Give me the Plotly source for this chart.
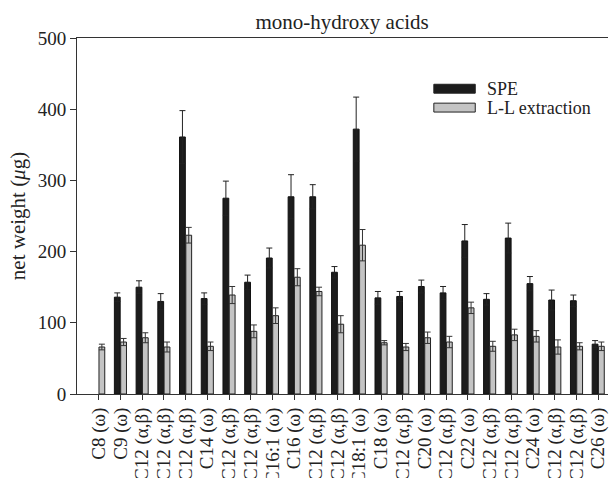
import plotly.graph_objects as go

categories = ["C8 (ω)", "C9 (ω)", "C12 (α,β)", "C12 (α,β)", "C12 (α,β)", "C14 (ω)",
              "C12 (α,β)", "C12 (α,β)", "C16:1 (ω)", "C16 (ω)", "C12 (α,β)", "C12 (α,β)",
              "C18:1 (ω)", "C18 (ω)", "C12 (α,β)", "C20 (ω)", "C12 (α,β)", "C22 (ω)",
              "C12 (α,β)", "C12 (α,β)", "C24 (ω)", "C12 (α,β)", "C12 (α,β)", "C26 (ω)"]
spe = [None, 136, 150, 130, 361, 134, 275, 157, 191, 277, 277, 171,
       372, 135, 137, 151, 142, 215, 133, 219, 155, 132, 131, 70]
spe_err = [None, 6, 9, 11, 37, 8, 24, 10, 14, 31, 17, 8,
           45, 9, 7, 9, 9, 23, 8, 21, 10, 14, 8, 5]
ll = [66, 73, 79, 66, 223, 67, 139, 88, 110, 164, 144, 98,
      209, 72, 66, 79, 73, 121, 67, 83, 81, 66, 67, 67]
ll_err = [4, 5, 7, 7, 11, 6, 12, 9, 11, 12, 6, 12,
          22, 3, 5, 8, 8, 8, 7, 8, 8, 10, 5, 6]
y_ticks = [0, 100, 200, 300, 400, 500]
series_names = ["SPE", "L-L extraction"]
series_fill = ["#1c1c1c", "#c4c4c4"]

x = list(range(len(categories)))
font_family = "Liberation Serif, Times New Roman, serif"
ink = "#222222"

fig = go.Figure()
fig.add_trace(go.Bar(
    x=x, y=spe, name=series_names[0], showlegend=False,
    marker=dict(color=series_fill[0], line=dict(color="#111111", width=1)),
    error_y=dict(type="data", array=spe_err, visible=True, color="#222222", thickness=1, width=3),
))
fig.add_trace(go.Bar(
    x=x, y=ll, name=series_names[1], showlegend=False,
    marker=dict(color=series_fill[1], line=dict(color="#222222", width=1)),
    error_y=dict(type="data", array=ll_err, visible=True, color="#333333", thickness=1, width=3),
))

# custom legend (wide swatches like the reference)
leg_rows = [(0.870, 0.845), (0.817, 0.792)]
for (y1, y0), name, fill in zip(leg_rows, series_names, series_fill):
    fig.add_shape(type="rect", xref="paper", yref="paper", x0=0.672, x1=0.750, y0=y0, y1=y1,
                  fillcolor=fill, line=dict(color="#222222", width=1))
    fig.add_annotation(xref="paper", yref="paper", x=0.768, y=(y0 + y1) / 2, text=name,
                       showarrow=False, xanchor="left", yanchor="middle",
                       font=dict(family=font_family, size=18, color=ink))

fig.update_layout(
    width=611, height=478,
    margin=dict(l=77, r=3, t=38, b=84),
    paper_bgcolor="white", plot_bgcolor="white",
    barmode="group", bargap=0.42, bargroupgap=0.08,
    font=dict(family=font_family, size=18, color=ink),
    title=dict(text="mono-hydroxy acids", x=0.56, xanchor="center", y=0.955, yanchor="middle",
               font=dict(family=font_family, size=21, color=ink)),
    showlegend=False,
)
fig.update_xaxes(
    range=[-1.0, 23.45], tickmode="array", tickvals=x, ticktext=categories,
    tickangle=-90, ticks="outside", ticklen=5, tickcolor="#333333",
    showline=True, linecolor="#333333", linewidth=1, mirror=True,
    showgrid=False, zeroline=False, automargin=False,
    tickfont=dict(family=font_family, size=19, color=ink),
)
fig.update_yaxes(
    range=[0, 500], tickmode="array", tickvals=y_ticks,
    ticks="outside", ticklen=6, tickcolor="#333333",
    showline=True, linecolor="#333333", linewidth=1,
    showgrid=False, zeroline=False, automargin=False,
    tickfont=dict(family=font_family, size=19, color=ink),
    title=dict(text="net weight (<i>μ</i>g)", font=dict(family=font_family, size=21, color=ink), standoff=6),
)

fig.write_html("out.html")
